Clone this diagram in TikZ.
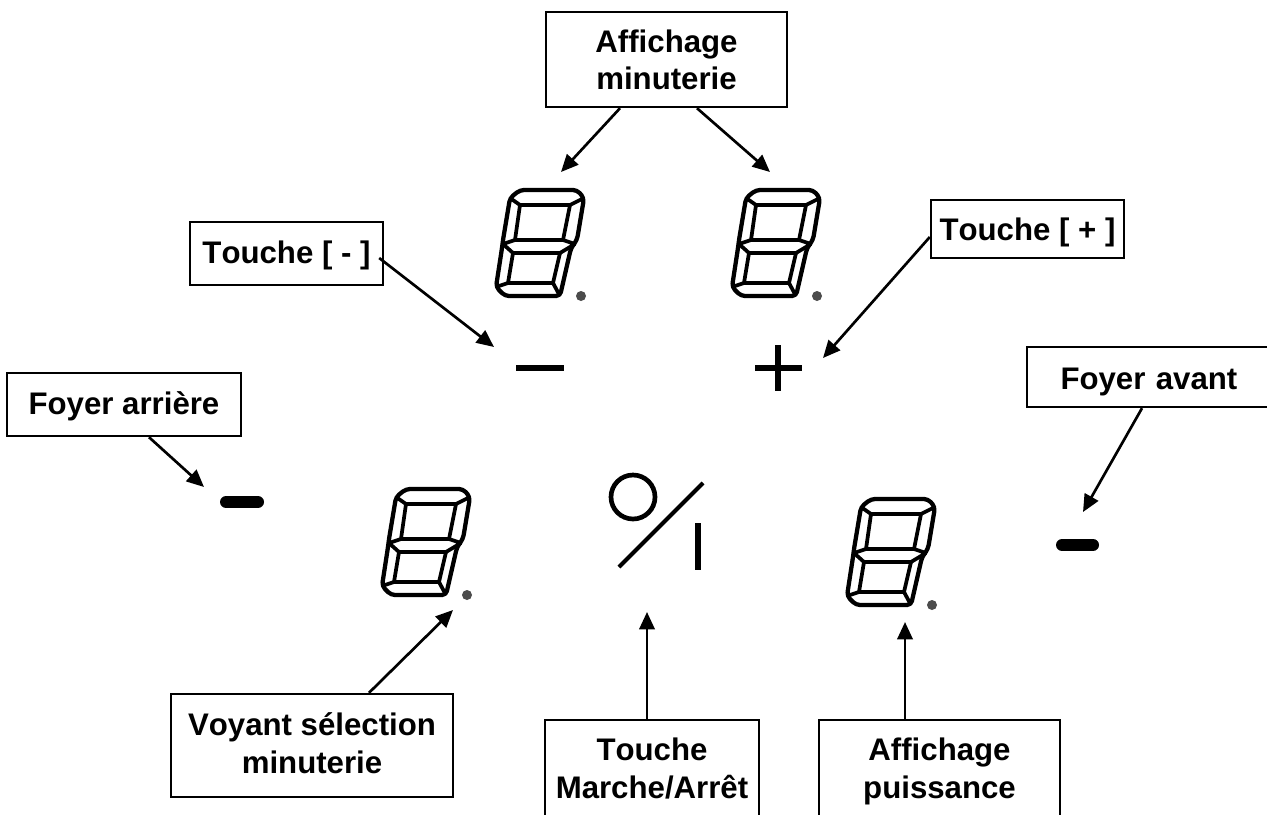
\documentclass[tikz,border=0pt]{standalone}
\usepackage{fontspec}
\setmainfont[Kerning=Off,Ligatures=NoCommon]{Liberation Sans}
\usetikzlibrary{arrows.meta}
\newlength{\unitepx}
\setlength{\unitepx}{0.75pt}
\newcommand{\haut}[1]{\rule{0pt}{#1\unitepx}}
\newcommand{\bas}[1]{\rule[-#1\unitepx]{0pt}{#1\unitepx}}
\tikzset{
  legende/.style={draw,line width=1.8pt,fill=white,align=center,inner sep=0pt,font=\fontsize{23.4}{27.75}\selectfont\bfseries},
  fleche/.style={-{Triangle[length=13pt,width=11.5pt]},line width=2pt},
  contour/.style={line width=3.2pt,rounded corners=3pt,line join=round},
  segment/.style={line width=2.8pt,line join=round},
  pics/afficheur/.style={code={
    \draw[contour] (26,2)--(83,2)--(90,10)--(83,52)--(77,60)--(66,108)--(11,108)--(2,99)--(8,60)--(9,52)--(16,10)--cycle;
    \draw[segment] (26,17)--(76,17)--(69,52)--(21,52)--cycle;
    \draw[segment] (19,65)--(66,65)--(59,95)--(14,95)--cycle;
    \draw[segment] (16,10)--(26,17) (90,10)--(76,17) (9,56)--(21,52) (9,56)--(19,65)
      (81,56)--(69,52) (81,56)--(66,65) (2,99)--(14,95) (66,108)--(59,95);
    \fill[black!70] (87,108) circle (5);
  }}
}
\begin{document}
\begin{tikzpicture}[x=0.75pt,y=-0.75pt]
  \clip (0,0) rectangle (1267,814);
  \fill[white] (0,0) rectangle (1267,814);

  \pic at (494,188) {afficheur};
  \pic at (730,188) {afficheur};
  \pic at (380,487) {afficheur};
  \pic at (845,497) {afficheur};

  \draw[line width=5pt] (516,368) -- (564,368);
  \draw[line width=4.5pt] (755,368) -- (802,368);
  \draw[line width=4.5pt] (778,345) -- (778,391);
  \draw[line width=9pt,line cap=round] (226,502) -- (258,502);
  \draw[line width=9pt,line cap=round] (1062,545) -- (1093,545);

  \draw[line width=3.5pt] (633,497) circle (22);
  \draw[line width=3pt] (619,567) -- (703,483);
  \draw[line width=5pt] (698,523) -- (698,570);

  \node[legende,minimum width=241*0.75pt,minimum height=95*0.75pt] (minuterie) at (666.5,59.5) {Affichage\\minuterie};
  \node[legende,minimum width=193*0.75pt,minimum height=63*0.75pt] (moins) at (286.5,253.5) {\haut{25.5}Touche [ - ]};
  \node[legende,minimum width=193*0.75pt,minimum height=58*0.75pt] (plus) at (1027.5,229) {\haut{28.5}Touche [ + ]};
  \node[legende,minimum width=234*0.75pt,minimum height=63*0.75pt] (arriere) at (124,404.5) {\haut{25.5}Foyer arrière};
  \node[legende,minimum width=300*0.75pt,minimum height=60*0.75pt,text width=233*0.75pt] (avant) at (1177,377) {\haut{30.5}Foyer avant\hfill\null};
  \node[legende,minimum width=282*0.75pt,minimum height=103*0.75pt] (voyant) at (312,745.5) {Voyant sélection\\[0.75pt]minuterie\bas{5.7}};
  \node[legende,minimum width=214*0.75pt,minimum height=97.3*0.75pt] (marche) at (652,768.65) {Touche\\[0.75pt]Marche/Arrêt};
  \node[legende,minimum width=241*0.75pt,minimum height=103.8*0.75pt] (puissance) at (939.5,771.9) {Affichage\\[0.75pt]puissance};

  \coordinate (digita) at (561,172);
  \coordinate (digitb) at (770,172);
  \coordinate (signmoins) at (494,347);
  \coordinate (signplus) at (823,358);
  \coordinate (foyerg) at (204,487);
  \coordinate (foyerd) at (1083,512);
  \coordinate (voyantpt) at (453,610);
  \coordinate (bouton) at (647,612);
  \coordinate (digitc) at (905,622);

  \draw[fleche] ([shift={(-46.5,0)}]minuterie.south) -- (digita);
  \draw[fleche] ([shift={(30.5,0)}]minuterie.south) -- (digitb);
  \draw[fleche] ([shift={(-5,4.5)}]moins.east) -- (signmoins);
  \draw[fleche] ([shift={(0,8)}]plus.west) -- (signplus);
  \draw[fleche] ([shift={(25,0)}]arriere.south) -- (foyerg);
  \draw[fleche] ([shift={(-35,0)}]avant.south) -- (foyerd);
  \draw[fleche] ([shift={(57,0)}]voyant.north) -- (voyantpt);
  \draw[fleche] ([shift={(-5,0)}]marche.north) -- (bouton);
  \draw[fleche] ([shift={(-34.5,0)}]puissance.north) -- (digitc);
\end{tikzpicture}
\end{document}
